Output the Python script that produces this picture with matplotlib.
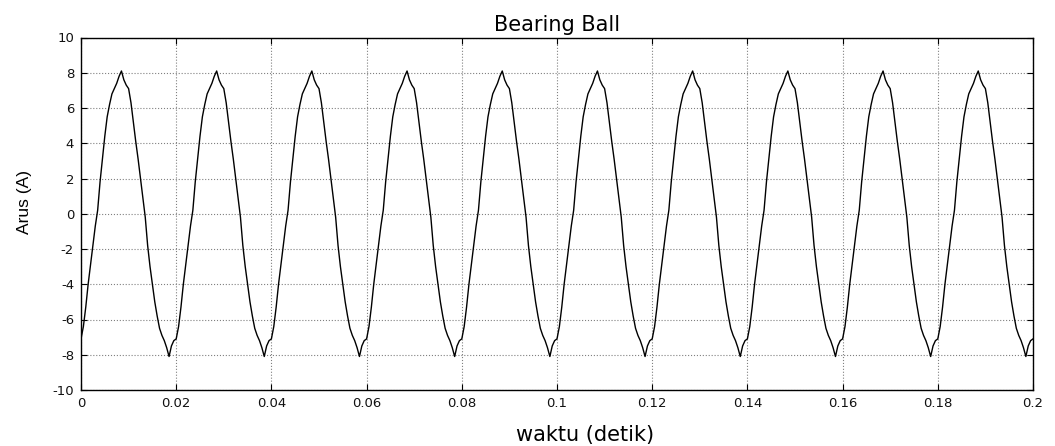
import numpy as np
import matplotlib
matplotlib.use("Agg")
import matplotlib.pyplot as plt

plt.rcParams["axes.unicode_minus"] = False

cycle_values = [-7.1, -6.4, -5.3, -4.0, -2.9, -1.8, -0.7, 0.2, 1.8, 3.1,
                4.4, 5.5, 6.2, 6.8, 7.1, 7.4, 7.8, 8.1, 7.6, 7.3,
                7.1, 6.3, 5.2, 4.1, 3.1, 2.0, 0.9, -0.2, -1.8, -3.0,
                -4.0, -5.0, -5.8, -6.5, -6.9, -7.2, -7.6, -8.1, -7.5, -7.2]
n_cycles = 10
sample_step = 0.0005
end_value = -7.1

xticks = [0, 0.02, 0.04, 0.06, 0.08, 0.1, 0.12, 0.14, 0.16, 0.18, 0.2]
xticklabels = ["0", "0.02", "0.04", "0.06", "0.08", "0.1", "0.12", "0.14", "0.16", "0.18", "0.2"]
yticks = [-10, -8, -6, -4, -2, 0, 2, 4, 6, 8, 10]

current = np.concatenate([np.tile(cycle_values, n_cycles), [end_value]])
time = np.arange(len(current)) * sample_step

fig = plt.figure(figsize=(10.55, 4.46), dpi=100)
ax = fig.add_axes([81 / 1055, 1 - 390 / 446, (1033 - 81) / 1055, (390 - 37.5) / 446])

ax.plot(time, current, color="black", lw=1.0)

ax.set_xlim(0, 0.2)
ax.set_ylim(-10, 10)
ax.set_xticks(xticks)
ax.set_xticklabels(xticklabels)
ax.set_yticks(yticks)
ax.tick_params(direction="in", length=4, width=0.8, top=True, right=True,
               labelsize=9.5, labelcolor="#111111")
ax.tick_params(axis="x", pad=5)
ax.tick_params(axis="y", pad=5)
for lbl in ax.get_xticklabels() + ax.get_yticklabels():
    lbl.set_family(["DejaVu Sans"])
ax.grid(True, color="#808080", linestyle=":", linewidth=0.8)
for sp in ax.spines.values():
    sp.set_linewidth(1.0)
    sp.set_color("black")

ax.set_title("Bearing Ball", fontsize=15, family=["DejaVu Sans"], pad=4.5)
fig.text(585 / 1055, 1.5 / 446, "waktu (detik)", fontsize=15,
         family=["DejaVu Sans"], ha="center", va="bottom")
fig.text(25 / 1055, 1 - 202 / 446, "Arus (A)", fontsize=12.5, rotation=90,
         family=["Liberation Sans", "DejaVu Sans"],
         ha="center", va="center")

fig.savefig("out.png", dpi=100)
